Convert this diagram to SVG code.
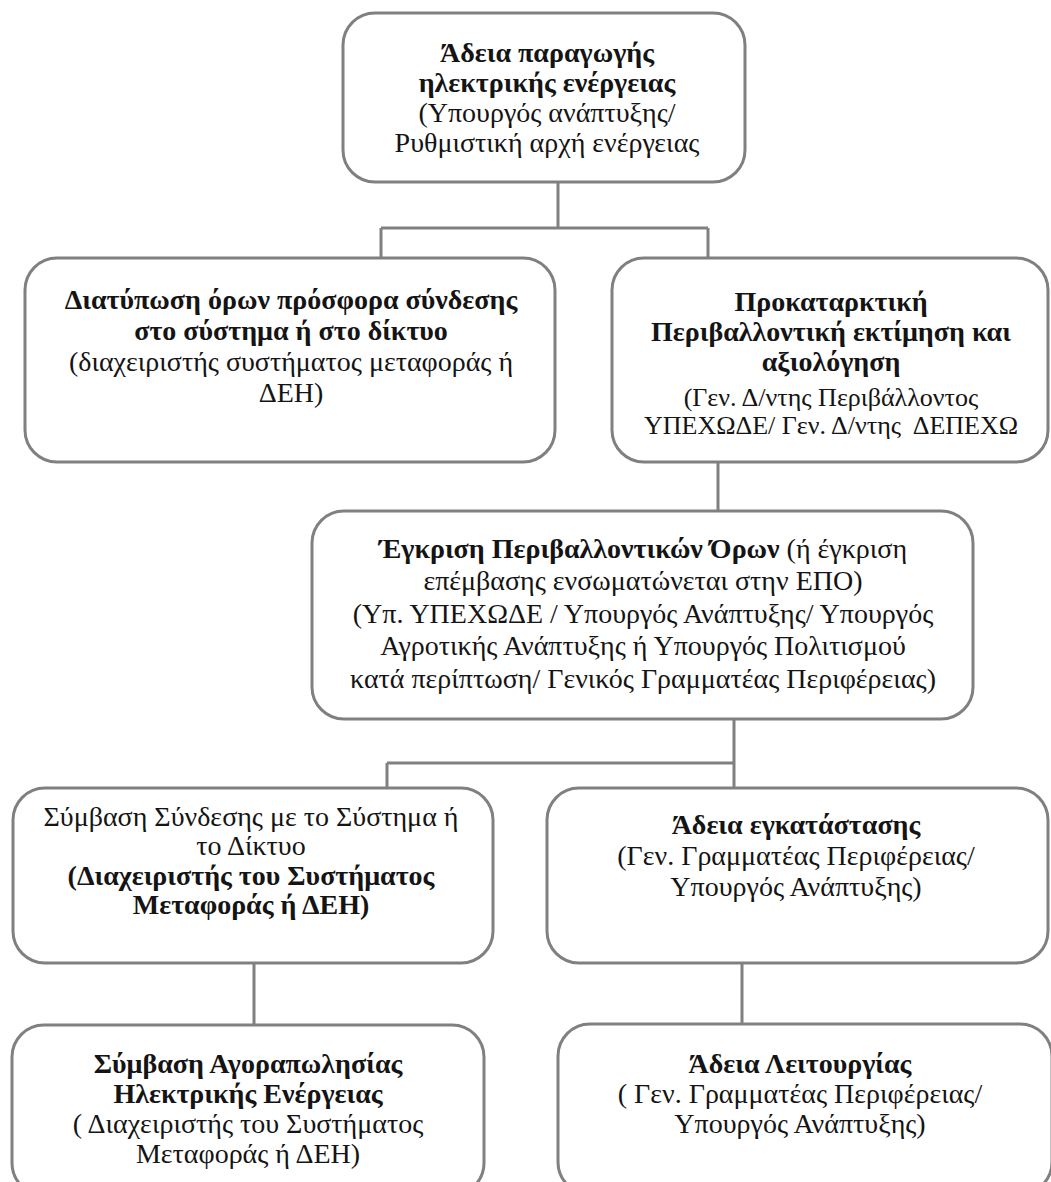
<svg xmlns="http://www.w3.org/2000/svg" width="1051" height="1182" viewBox="0 0 1051 1182">
<style>
.box{fill:#fff;stroke:#808080;stroke-width:3}
.con{fill:none;stroke:#808080;stroke-width:3}
.t text{fill:#141414;text-anchor:middle}
.b{font-weight:bold}
</style>
<rect width="1051" height="1182" fill="#fff"/>
<g id="connectors">
<path class="con" d="M558 182V228M381 228H708M381 228V258M708 228V258"/>
<path class="con" d="M718 462V511"/>
<path class="con" d="M734 719V787M387 763H734M387 763V788"/>
<path class="con" d="M254 963V1025M742 963V1024"/>
</g>
<g class="t" font-family="Liberation Serif, serif" font-size="28">
<g id="n1">
<rect class="box" x="343" y="13" width="402" height="169" rx="32"/>
<text x="547" y="62" class="b">Άδεια παραγωγής</text>
<text x="547" y="92" class="b">ηλεκτρικής ενέργειας</text>
<text x="547" y="122">(Υπουργός ανάπτυξης/</text>
<text x="547" y="152">Ρυθμιστική αρχή ενέργειας</text>
</g>
<g id="n2">
<rect class="box" x="25" y="258" width="530" height="204" rx="32"/>
<text x="291" y="309" class="b">Διατύπωση όρων πρόσφορα σύνδεσης</text>
<text x="291" y="340" class="b">στο σύστημα ή στο δίκτυο</text>
<text x="291" y="371">(διαχειριστής συστήματος μεταφοράς ή</text>
<text x="291" y="402">ΔΕΗ)</text>
</g>
<g id="n3">
<rect class="box" x="612" y="258" width="436" height="204" rx="32"/>
<text x="831" y="311" class="b">Προκαταρκτική</text>
<text x="831" y="341" class="b">Περιβαλλοντική εκτίμηση και</text>
<text x="831" y="371" class="b">αξιολόγηση</text>
<text x="831" y="406" font-size="26">(Γεν. Δ/ντης Περιβάλλοντος</text>
<text x="831" y="434" font-size="26" xml:space="preserve">ΥΠΕΧΩΔΕ/ Γεν. Δ/ντης  ΔΕΠΕΧΩ</text>
</g>
<g id="n4">
<rect class="box" x="312" y="511" width="661" height="208" rx="32"/>
<text x="643" y="558"><tspan class="b">Έγκριση Περιβαλλοντικών Όρων</tspan> (ή έγκριση</text>
<text x="643" y="590">επέμβασης ενσωματώνεται στην ΕΠΟ)</text>
<text x="643" y="623">(Υπ. ΥΠΕΧΩΔΕ / Υπουργός Ανάπτυξης/ Υπουργός</text>
<text x="643" y="655">Αγροτικής Ανάπτυξης ή Υπουργός Πολιτισμού</text>
<text x="643" y="688">κατά περίπτωση/ Γενικός Γραμματέας Περιφέρειας)</text>
</g>
<g id="n5">
<rect class="box" x="13" y="788" width="480" height="175" rx="32"/>
<text x="251" y="826">Σύμβαση Σύνδεσης με το Σύστημα ή</text>
<text x="251" y="855">το Δίκτυο</text>
<text x="251" y="885" class="b">(Διαχειριστής του Συστήματος</text>
<text x="251" y="914" class="b">Μεταφοράς ή ΔΕΗ)</text>
</g>
<g id="n6">
<rect class="box" x="547" y="788" width="501" height="175" rx="32"/>
<text x="796" y="834" class="b">Άδεια εγκατάστασης</text>
<text x="796" y="865">(Γεν. Γραμματέας Περιφέρειας/</text>
<text x="796" y="896">Υπουργός Ανάπτυξης)</text>
</g>
<g id="n7">
<rect class="box" x="12" y="1025" width="472" height="170" rx="32"/>
<text x="248" y="1073" class="b">Σύμβαση Αγοραπωλησίας</text>
<text x="248" y="1103" class="b">Ηλεκτρικής Ενέργειας</text>
<text x="248" y="1133">( Διαχειριστής του Συστήματος</text>
<text x="248" y="1163">Μεταφοράς ή ΔΕΗ)</text>
</g>
<g id="n8">
<rect class="box" x="558" y="1024" width="494" height="170" rx="32"/>
<text x="800" y="1073" class="b">Άδεια Λειτουργίας</text>
<text x="800" y="1103">( Γεν. Γραμματέας Περιφέρειας/</text>
<text x="800" y="1133">Υπουργός Ανάπτυξης)</text>
</g>
</g>
</svg>
